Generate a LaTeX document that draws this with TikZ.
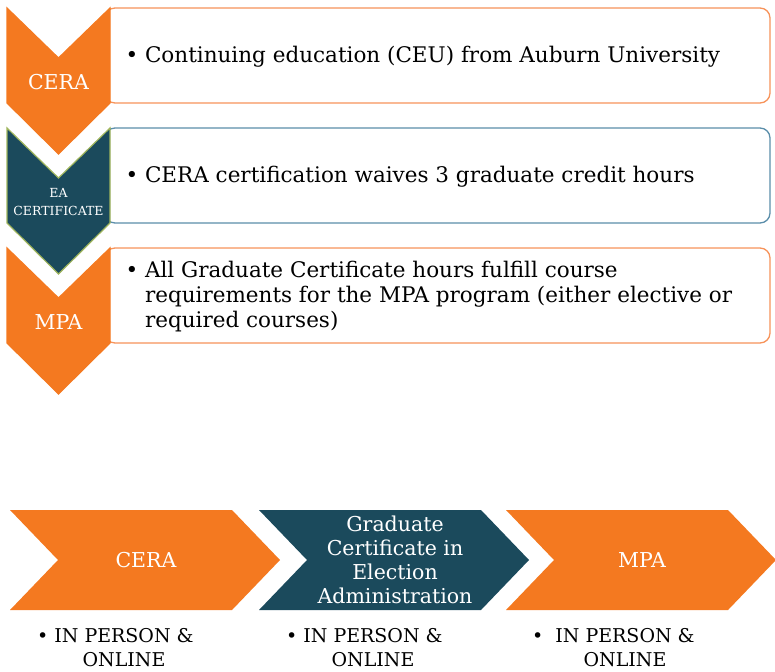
\documentclass[tikz,border=0pt]{standalone}
\usepackage{fontspec}
\setmainfont{DejaVu Serif}
\usetikzlibrary{positioning, calc}

\definecolor{ceraorange}{HTML}{F47920}
\definecolor{eateal}{HTML}{1B4A5C}
\definecolor{boxorange}{HTML}{F7935A}
\definecolor{boxblue}{HTML}{5B8EAA}
\definecolor{eagreen}{HTML}{9FB55C}

\begin{document}
\begin{tikzpicture}[
    x=1pt, y=-1pt,
    chev_label/.style={text=white, align=center, font=\fontsize{20.5}{24}\selectfont},
    small_label/.style={text=white, align=center, font=\fontsize{12.5}{18}\selectfont},
    info_box/.style={rounded corners=10pt, line width=1.3pt, fill=white},
    info_text/.style={anchor=west, align=left, font=\fontsize{21.5}{25}\selectfont},
    mode_text/.style={align=center, font=\fontsize{19}{24}\selectfont}
]
    \useasboundingbox (0,0) rectangle (775,671);

    % ======================================================================
    % PANEL A: VERTICAL STEPS WITH TEXT BOXES
    % ======================================================================
    \foreach \t/\fillcol/\edgecol/\boxcol in {8/ceraorange/ceraorange/boxorange,
                                              128/eateal/eagreen/boxblue,
                                              248/ceraorange/ceraorange/boxorange} {
        % Textbox
        \draw[info_box, draw=\boxcol] (105,\t) rectangle (770,\t+95);
        % Chevron nach unten
        \filldraw[fill=\fillcol, draw=\edgecol, line width=1.2pt, line join=miter]
            (7,\t) -- (58.5,\t+50) -- (110,\t) -- (110,\t+95) -- (58.5,\t+146) -- (7,\t+95) -- cycle;
    }

    % Labels
    \node[chev_label] (cera-tag) at (58.5,82) {CERA};
    \node[small_label] (ea-tag) at (58.5,202) {EA\\CERTIFICATE};
    \node[chev_label] (mpa-tag) at (58.5,322) {MPA};

    \node[info_text] (cera-info) at (122,57)
        {\textbullet\ Continuing education (CEU) from Auburn University};
    \node[info_text] (ea-info) at (122,177)
        {\textbullet\ CERA certification waives 3 graduate credit hours};
    \node[info_text] (mpa-info) at (122,297)
        {\textbullet\ All Graduate Certificate hours fulfill course\\
         \phantom{\textbullet\ }requirements for the MPA program (either elective or\\
         \phantom{\textbullet\ }required courses)};

    % ======================================================================
    % PANEL B: HORIZONTAL PATHWAY
    % ======================================================================
    \foreach \x/\fillcol in {10/ceraorange, 259/eateal, 506/ceraorange}
        \fill[\fillcol] (\x,510) -- (\x+222,510) -- (\x+270,560) -- (\x+222,610)
            -- (\x,610) -- (\x+48,560) -- cycle;

    % Labels
    \node[chev_label] (cera-step) at (146,560) {CERA};
    \node[chev_label] (ea-step) at (395,560)
        {Graduate\\Certificate in\\Election\\Administration};
    \node[chev_label] (mpa-step) at (642,560) {MPA};

    % Modus
    \node[mode_text] (cera-mode) at (124,648) {\llap{\textbullet\ }IN PERSON \&\\ONLINE};
    \node[mode_text] (ea-mode) at (373,648) {\llap{\textbullet\ }IN PERSON \&\\ONLINE};
    \node[mode_text] (mpa-mode) at (625,648) {\llap{\textbullet\ \ }IN PERSON \&\\ONLINE};

\end{tikzpicture}
\end{document}
